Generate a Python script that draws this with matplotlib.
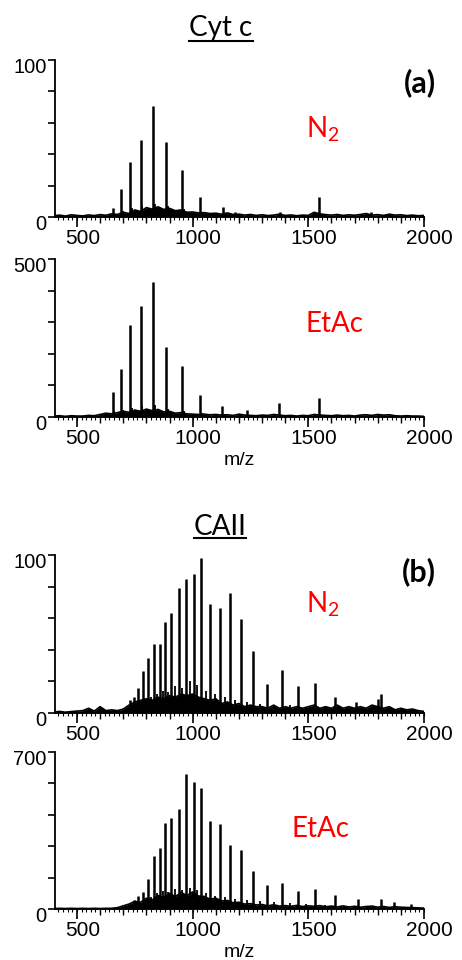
import matplotlib.pyplot as plt
from matplotlib.ticker import MultipleLocator
from matplotlib.lines import Line2D
import matplotlib.transforms as mtrans
import numpy as np

plt.rcParams['font.family'] = ['Liberation Sans', 'DejaVu Sans']
plt.rcParams['mathtext.fontset'] = 'custom'
plt.rcParams['mathtext.rm'] = 'Lato'

# m/z grid for the baseline / background hump (read every 25 units)
bg_mz = list(range(400, 2001, 25))

# ---- Cyt c, N2 (scale 0-100) ----
cytc_n2_mz = [654, 690, 730, 775, 828, 886, 955, 1033, 1130, 1183, 1241, 1378, 1548, 1771, 1834]
cytc_n2_int = [5.5, 18, 35, 49, 71, 48, 30, 12.5, 6.6, 3.4, 2.2, 3, 12.5, 3, 2]
cytc_n2_side_mz = [660, 697, 738, 783, 836, 895, 963, 1042]
cytc_n2_side_int = [2, 4, 6, 7, 8, 7, 5, 3]
cytc_n2_bg = [0.8, 1.2, 0.6, 1.4, 1.0,
              0.7, 1.3, 0.9, 1.5, 1.1,
              2.0, 1.6, 3.0, 2.2, 4.5,
              3.5, 6.0, 5.0, 6.5, 4.8,
              5.5, 4.0, 4.5, 3.0, 3.2,
              2.6, 2.8, 2.2, 2.4, 1.8,
              2.6, 1.6, 1.8, 1.2, 1.6,
              1.0, 1.4, 0.9, 1.2, 1.8,
              1.0, 1.3, 0.8, 1.2, 1.0,
              3.0, 2.0, 1.5, 1.2, 1.6,
              1.0, 1.4, 1.1, 1.6, 2.2,
              1.2, 1.5, 1.0, 1.8, 1.2,
              1.4, 0.9, 1.2, 0.8, 1.0]

# ---- Cyt c, EtAc (scale 0-500) ----
cytc_etac_mz = [614, 654, 690, 730, 775, 828, 886, 955, 1033, 1128, 1237, 1375, 1548]
cytc_etac_int = [10, 80, 153, 291, 352, 428, 223, 160, 69, 35, 22, 45, 61]
cytc_etac_side_mz = [660, 697, 738, 783, 836, 895, 963, 1042, 1140]
cytc_etac_side_int = [18, 22, 30, 35, 38, 25, 18, 12, 8]
cytc_etac_bg = [3, 4, 2, 4, 3,
                3, 5, 4, 8, 12,
                10, 14, 18, 15, 22,
                18, 25, 20, 24, 16,
                18, 12, 14, 10, 9,
                8, 9, 7, 8, 6,
                7, 5, 9, 6, 5,
                4, 6, 5, 8, 6,
                4, 5, 3, 5, 4,
                8, 6, 5, 4, 6,
                4, 5, 3, 6, 7,
                5, 8, 6, 7, 4,
                3, 4, 3, 3, 2]

# ---- CAII, N2 (scale 0-100) ----
caii_n2_mz = [729, 748, 765, 785, 808, 831, 857, 882, 908, 939, 970, 1004, 1037,
              1076, 1117, 1160, 1209, 1262, 1321, 1385, 1455, 1530, 1614, 1708, 1800, 1814]
caii_n2_int = [8, 10, 15.6, 26.4, 35, 43.5, 43.5, 57.5, 63, 79, 84.6, 88, 98,
               69, 66.6, 76, 59.6, 39, 18.6, 27.5, 17, 19, 10, 7, 9, 12]
caii_n2_side_mz = [797, 820, 845, 870, 895, 925, 955, 988, 1020, 1057, 1097, 1138,
                   1185, 1235, 1290, 1350, 1420, 1490, 1570]
caii_n2_side_int = [8, 10, 12, 14, 13, 17, 16, 20, 18, 14, 12, 10, 8, 7, 6, 5, 5, 4, 4]
caii_n2_bg = [0.6, 1.0, 0.5, 0.9, 1.2,
              1.5, 3.0, 1.2, 4.0, 1.5,
              2.0, 1.5, 2.5, 5.0, 7.0,
              8.0, 9.0, 8.0, 10.0, 9.0,
              11.0, 10.0, 12.0, 11.0, 12.0,
              10.0, 9.0, 8.0, 9.0, 6.0,
              7.0, 5.0, 6.0, 4.0, 5.0,
              4.0, 4.0, 3.0, 5.0, 3.0,
              4.0, 3.0, 4.0, 3.0, 4.0,
              5.0, 3.0, 4.0, 3.0, 5.0,
              3.0, 4.0, 3.0, 4.0, 3.0,
              5.0, 4.0, 3.0, 4.0, 2.0,
              3.0, 2.0, 2.5, 1.5, 1.0]

# ---- CAII, EtAc (scale 0-700) ----
caii_etac_mz = [729, 748, 765, 785, 808, 831, 857, 882, 908, 939, 970, 1004, 1037,
                1076, 1117, 1160, 1209, 1262, 1321, 1385, 1455, 1530, 1614, 1713, 1814, 1870, 1942]
caii_etac_int = [12, 38, 56, 74, 133, 238, 273, 385, 406, 448, 602, 567, 539,
                 392, 378, 287, 263, 168, 105, 116, 81, 89, 61, 45, 45, 31, 24]
caii_etac_side_mz = [797, 820, 845, 870, 895, 925, 955, 988, 1020, 1057, 1097, 1138,
                     1185, 1235, 1290, 1350, 1420, 1490, 1570, 1660, 1760]
caii_etac_side_int = [40, 55, 70, 80, 75, 90, 85, 95, 85, 70, 60, 55, 45, 40, 35, 30,
                      25, 22, 18, 15, 14]
caii_etac_bg = [2, 3, 2, 3, 2,
                3, 2, 3, 2, 3,
                3, 6, 14, 22, 34,
                30, 48, 40, 60, 52,
                70, 55, 74, 60, 76,
                58, 56, 44, 48, 36,
                38, 28, 30, 22, 24,
                18, 20, 14, 19, 13,
                15, 12, 16, 11, 14,
                12, 15, 10, 13, 9,
                14, 9, 12, 8, 11,
                13, 8, 11, 7, 10,
                8, 7, 6, 5, 4]

W, H = 462, 960
fig = plt.figure(figsize=(W / 100, H / 100), dpi=100)


def px_axes(left, top, right, bottom):
    # axes rectangle from pixel edges
    return fig.add_axes([left / W, 1 - bottom / H, (right - left) / W, (bottom - top) / H])


def draw_panel(ax, mz, inten, side_mz, side_int, bg, ymax, xlabel):
    ax.fill_between(bg_mz, 0, bg, color='black', lw=0)
    ax.plot(bg_mz, bg, color='black', lw=1.2)
    ax.vlines(side_mz, 0, side_int, color='black', lw=1.3)
    ax.vlines(mz, 0, inten, color='black', lw=1.8)

    ax.set_xlim(405, 2000)
    ax.set_ylim(0, ymax)
    ax.spines['top'].set_visible(False)
    ax.spines['right'].set_visible(False)
    ax.spines['left'].set_linewidth(1.3)
    ax.spines['bottom'].set_linewidth(1.3)

    ax.set_yticks(np.linspace(0, ymax, 6))
    ax.set_yticklabels(['0', '', '', '', '', str(ymax)])
    ax.tick_params(axis='y', direction='out', length=5, width=1.2, labelsize=14.5, pad=1)

    ax.xaxis.set_major_locator(MultipleLocator(500))
    ax.xaxis.set_minor_locator(MultipleLocator(100))
    ax.tick_params(axis='x', which='major', length=7, width=1.2, labelsize=15, pad=2)
    ax.tick_params(axis='x', which='minor', length=4.5, width=1.0)
    sec = ax.secondary_xaxis('bottom')
    sec.xaxis.set_major_locator(MultipleLocator(20))
    sec.tick_params(axis='x', length=2.5, width=0.8, labelbottom=False)
    sec.spines['bottom'].set_visible(False)

    # labels sit a little low / right of their ticks in the original
    dy = mtrans.ScaledTranslation(0, -4 / 72, fig.dpi_scale_trans)
    for lab in ax.get_yticklabels():
        lab.set_transform(lab.get_transform() + dy)
    dx = mtrans.ScaledTranslation(4 / 72, 0, fig.dpi_scale_trans)
    for lab in ax.get_xticklabels():
        lab.set_transform(lab.get_transform() + dx)

    if xlabel:
        ax.set_xlabel('m/z', fontsize=14, labelpad=2.5)


ax1 = px_axes(55, 60, 424, 217)
draw_panel(ax1, cytc_n2_mz, cytc_n2_int, cytc_n2_side_mz, cytc_n2_side_int, cytc_n2_bg, 100, False)
ax2 = px_axes(55, 259, 424, 417)
draw_panel(ax2, cytc_etac_mz, cytc_etac_int, cytc_etac_side_mz, cytc_etac_side_int, cytc_etac_bg, 500, True)
ax3 = px_axes(55, 555, 424, 713)
draw_panel(ax3, caii_n2_mz, caii_n2_int, caii_n2_side_mz, caii_n2_side_int, caii_n2_bg, 100, False)
ax4 = px_axes(55, 752, 424, 909)
draw_panel(ax4, caii_etac_mz, caii_etac_int, caii_etac_side_mz, caii_etac_side_int, caii_etac_bg, 700, True)


def ptext(x, y, s, **kw):
    return fig.text(x / W, 1 - y / H, s, family=['Lato', 'DejaVu Sans'], **kw)


t1 = ptext(221, 36, 'Cyt c', fontsize=20, ha='center', va='baseline')
t2 = ptext(220, 535, 'CAII', fontsize=20, ha='center', va='baseline')
ptext(436, 92, '(a)', fontsize=22, fontweight='bold', ha='right', va='baseline')
ptext(436, 581, '(b)', fontsize=22, fontweight='bold', ha='right', va='baseline')

red = '#ff0000'
ptext(306, 137, r'N$_2$', fontsize=20, color=red, ha='left', va='baseline')
ptext(306, 332, 'EtAc', fontsize=20, color=red, ha='left', va='baseline')
ptext(306, 612, r'N$_2$', fontsize=20, color=red, ha='left', va='baseline')
ptext(291, 837, 'EtAc', fontsize=20, color=red, ha='left', va='baseline')

# underline the two titles
fig.canvas.draw()
for t, yline in [(t1, 41), (t2, 538)]:
    bb = t.get_window_extent().transformed(fig.transFigure.inverted())
    fig.add_artist(Line2D([bb.x0, bb.x1], [1 - yline / H, 1 - yline / H],
                          transform=fig.transFigure, color='black', lw=1.5))

fig.savefig('out.png', dpi=100)
